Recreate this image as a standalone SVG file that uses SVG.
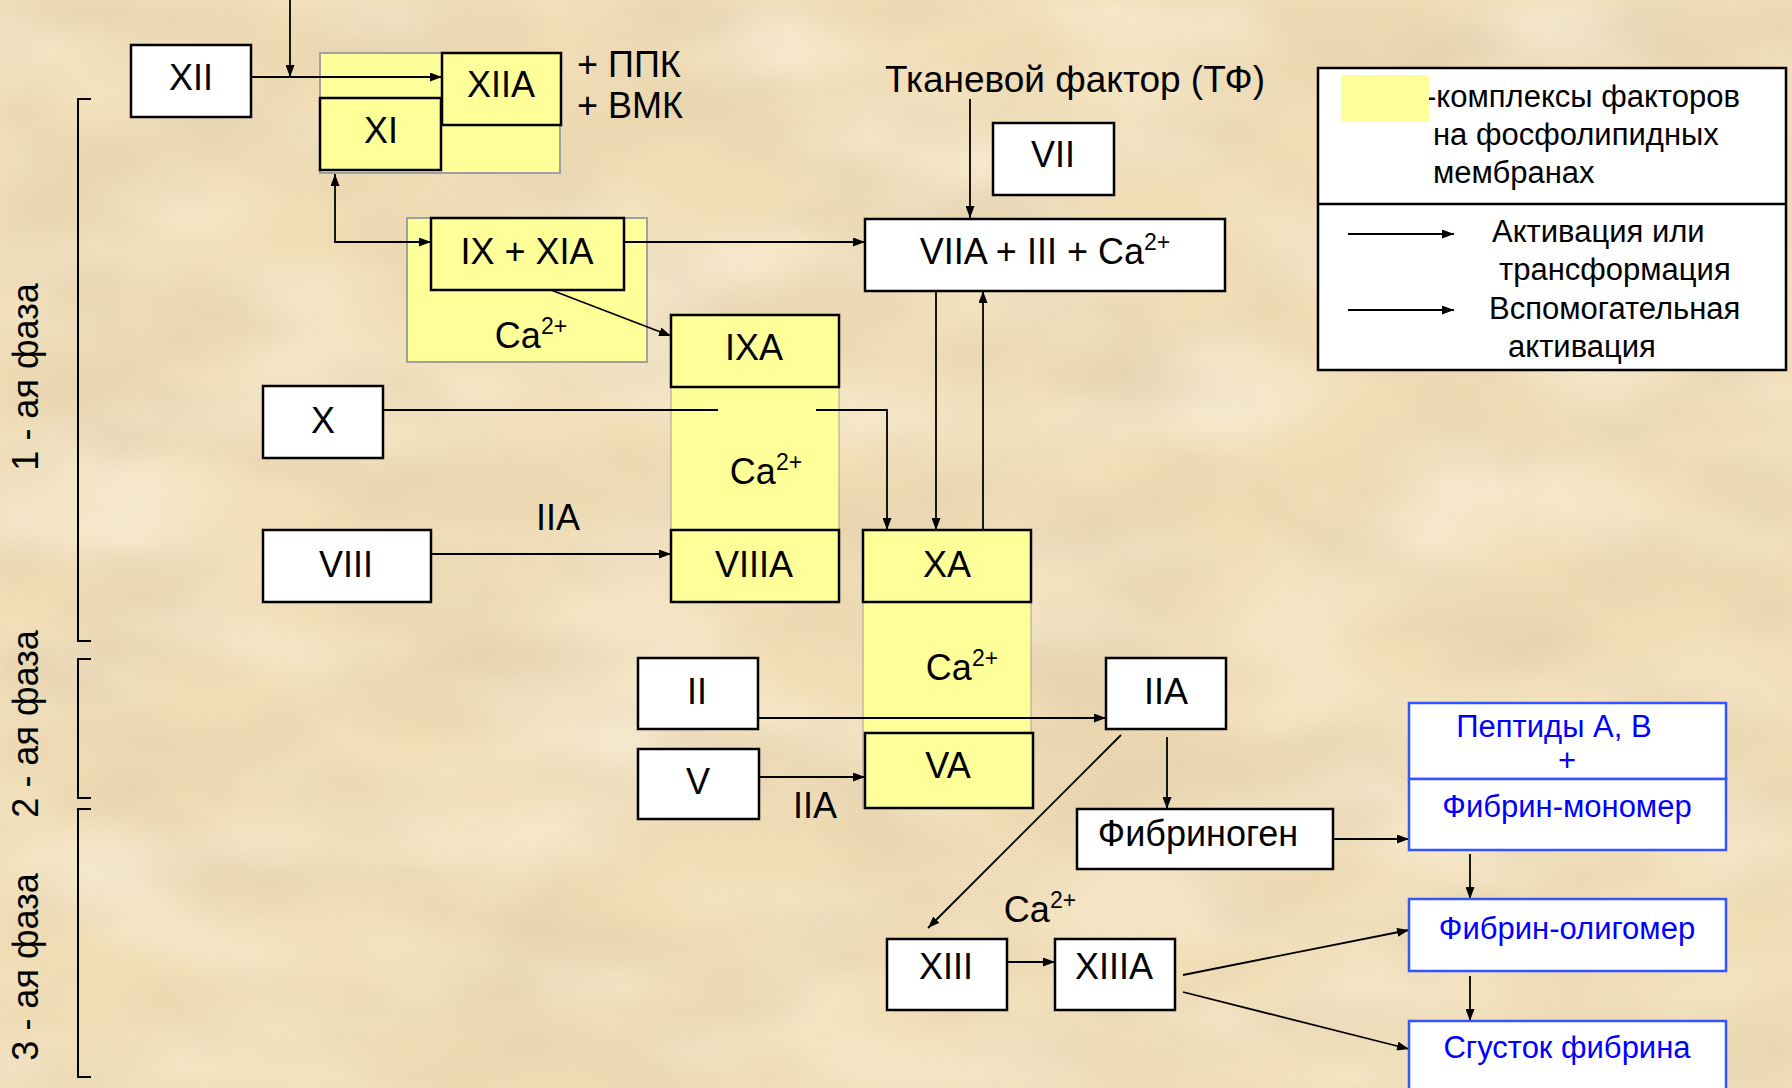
<svg xmlns="http://www.w3.org/2000/svg" width="1792" height="1088" viewBox="0 0 1792 1088">
<defs>
<style>
.t{font-family:"Liberation Sans",Arial,sans-serif;font-size:36px;fill:#000;text-anchor:middle}
.lg{font-family:"Liberation Sans",Arial,sans-serif;font-size:31px;fill:#000}
.bl{font-family:"Liberation Sans",Arial,sans-serif;font-size:31px;fill:#0000FF;text-anchor:middle}
.box{fill:#FFFFFF;stroke:#000;stroke-width:2.5}
.ybox{fill:#FFFF99;stroke:#000;stroke-width:2.5}
.grp{fill:#FFFF99;stroke:#A0A0A0;stroke-width:2}
.col{fill:#FFFF99;stroke:#A0A0A0;stroke-width:1}
.bbox{fill:#FFFFFF;stroke:#3355FF;stroke-width:2.5}
.ln{fill:none;stroke:#000;stroke-width:1.8}
.br{fill:none;stroke:#000;stroke-width:2}
</style>
<marker id="ah" viewBox="0 0 12 9" refX="12" refY="4.5" markerWidth="12" markerHeight="9" markerUnits="userSpaceOnUse" orient="auto-start-reverse">
<path d="M0,0 L12,4.5 L0,9 z" fill="#000"/>
</marker>
<filter id="paper" x="0" y="0" width="100%" height="100%">
<feTurbulence type="fractalNoise" baseFrequency="0.005 0.011" numOctaves="3" seed="7"/>
<feColorMatrix type="matrix" values="0 0 0 0 0.72  0 0 0 0 0.58  0 0 0 0 0.38  1.8 0 0 0 -0.68"/>
<feGaussianBlur stdDeviation="7"/>
</filter>
<filter id="light" x="0" y="0" width="100%" height="100%">
<feTurbulence type="fractalNoise" baseFrequency="0.004 0.009" numOctaves="2" seed="21"/>
<feColorMatrix type="matrix" values="0 0 0 0 1  0 0 0 0 0.96  0 0 0 0 0.85  1.8 0 0 0 -0.7"/>
<feGaussianBlur stdDeviation="8"/>
</filter>
</defs>
<rect width="1792" height="1088" fill="#F1DEB7"/>
<rect width="1792" height="1088" filter="url(#light)" opacity="0.6"/>
<rect width="1792" height="1088" filter="url(#paper)" opacity="0.7"/>

<!-- phase brackets and labels -->
<g id="phases">
<path class="br" d="M91,99 H78 V641 H91"/>
<path class="br" d="M91,659 H78 V798 H91"/>
<path class="br" d="M91,809 H78 V1077 H91"/>
<text class="t" transform="translate(38,377) rotate(-90)">1 - ая фаза</text>
<text class="t" transform="translate(38,724) rotate(-90)">2 - ая фаза</text>
<text class="t" transform="translate(38,967) rotate(-90)">3 - ая фаза</text>
</g>

<!-- complex backgrounds -->
<g id="complex-XII-XI"><rect class="grp" x="320" y="53" width="240" height="120"/></g>
<g id="complex-IX-XIA"><rect class="grp" x="407" y="218" width="240" height="144"/></g>
<g id="complex-IXA-VIIIA"><rect class="col" x="671" y="315" width="168" height="287"/></g>
<g id="complex-XA-VA"><rect class="col" x="863" y="530" width="168" height="278"/></g>

<!-- connectors -->
<g id="connectors">
<path class="ln" d="M290,0 V77" marker-end="url(#ah)"/>
<path class="ln" d="M251,77 H442" marker-end="url(#ah)"/>
<path class="ln" d="M335,174 V242 H431" marker-start="url(#ah)" marker-end="url(#ah)"/>
<path class="ln" d="M624,242 H865" marker-end="url(#ah)"/>
<path class="ln" d="M551,290 L671,336" marker-end="url(#ah)"/>
<path class="ln" d="M970,99 V218" marker-end="url(#ah)"/>
<path class="ln" d="M936,291 V530" marker-end="url(#ah)"/>
<path class="ln" d="M983,530 V291" marker-end="url(#ah)"/>
<path class="ln" d="M383,410 H718"/>
<path class="ln" d="M816,410 H887 V530" marker-end="url(#ah)"/>
<path class="ln" d="M431,554 H671" marker-end="url(#ah)"/>
<path class="ln" d="M758,718 H1106" marker-end="url(#ah)"/>
<path class="ln" d="M759,777 H865" marker-end="url(#ah)"/>
<path class="ln" d="M1167,737 V809" marker-end="url(#ah)"/>
<path class="ln" d="M1121,735 L928,928" marker-end="url(#ah)"/>
<path class="ln" d="M1333,839 H1409" marker-end="url(#ah)"/>
<path class="ln" d="M1007,962 H1055" marker-end="url(#ah)"/>
<path class="ln" d="M1470,854 V899" marker-end="url(#ah)"/>
<path class="ln" d="M1470,976 V1021" marker-end="url(#ah)"/>
<path class="ln" d="M1183,975 L1409,930" marker-end="url(#ah)"/>
<path class="ln" d="M1183,992 L1409,1049" marker-end="url(#ah)"/>
</g>

<!-- nodes -->
<g id="XII"><rect class="box" x="131" y="45" width="120" height="72"/><text class="t" x="191" y="90">XII</text></g>
<g id="XIIA"><rect class="ybox" x="442" y="53" width="119" height="72"/><text class="t" x="501" y="97">XIIA</text></g>
<g id="XI"><rect class="ybox" x="320" y="98" width="121" height="72"/><text class="t" x="381" y="143">XI</text></g>
<g id="ppk-vmk"><text class="t" x="577" y="77" style="text-anchor:start">+ ППК</text><text class="t" x="577" y="118" style="text-anchor:start">+ ВМК</text></g>
<g id="TF"><text class="t" x="1075" y="92" style="font-size:37px">Тканевой фактор (ТФ)</text></g>
<g id="VII"><rect class="box" x="993" y="123" width="121" height="72"/><text class="t" x="1053" y="167">VII</text></g>
<g id="VIIA-III-Ca"><rect class="box" x="865" y="219" width="360" height="72"/><text class="t" x="1045" y="264">VIIA + III + Ca<tspan font-size="23" dy="-14">2+</tspan></text></g>
<g id="IX-XIA"><rect class="ybox" x="431" y="218" width="193" height="72"/><text class="t" x="527" y="264">IX + XIA</text></g>
<g id="Ca-1"><text class="t" x="531" y="348">Ca<tspan font-size="23" dy="-14">2+</tspan></text></g>
<g id="IXA"><rect class="ybox" x="671" y="315" width="168" height="72"/><text class="t" x="754" y="360">IXA</text></g>
<g id="Ca-2"><text class="t" x="766" y="484">Ca<tspan font-size="23" dy="-14">2+</tspan></text></g>
<g id="X"><rect class="box" x="263" y="386" width="120" height="72"/><text class="t" x="323" y="433">X</text></g>
<g id="IIA-label-1"><text class="t" x="558" y="530">IIA</text></g>
<g id="VIII"><rect class="box" x="263" y="530" width="168" height="72"/><text class="t" x="346" y="577">VIII</text></g>
<g id="VIIIA"><rect class="ybox" x="671" y="530" width="168" height="72"/><text class="t" x="754" y="577">VIIIA</text></g>
<g id="XA"><rect class="ybox" x="863" y="530" width="168" height="72"/><text class="t" x="947" y="577">XA</text></g>
<g id="Ca-3"><text class="t" x="962" y="680">Ca<tspan font-size="23" dy="-14">2+</tspan></text></g>
<g id="VA"><rect class="ybox" x="865" y="733" width="168" height="75"/><text class="t" x="948" y="778">VA</text></g>
<g id="II"><rect class="box" x="638" y="658" width="120" height="71"/><text class="t" x="697" y="704">II</text></g>
<g id="IIA"><rect class="box" x="1106" y="658" width="120" height="71"/><text class="t" x="1166" y="704">IIA</text></g>
<g id="V"><rect class="box" x="638" y="749" width="121" height="70"/><text class="t" x="698" y="794">V</text></g>
<g id="IIA-label-2"><text class="t" x="815" y="818">IIA</text></g>
<g id="Fibrinogen"><rect class="box" x="1077" y="809" width="256" height="60"/><text class="t" x="1198" y="846">Фибриноген</text></g>
<g id="Ca-4"><text class="t" x="1040" y="922">Ca<tspan font-size="23" dy="-14">2+</tspan></text></g>
<g id="XIII"><rect class="box" x="887" y="939" width="120" height="71"/><text class="t" x="946" y="979">XIII</text></g>
<g id="XIIIA"><rect class="box" x="1055" y="939" width="120" height="71"/><text class="t" x="1114" y="979">XIIIA</text></g>
<g id="Peptides"><rect class="bbox" x="1409" y="703" width="317" height="76"/><text class="bl" x="1554" y="737">Пептиды А, В</text><text class="bl" x="1567" y="771">+</text></g>
<g id="Fibrin-monomer"><rect class="bbox" x="1409" y="779" width="317" height="71"/><text class="bl" x="1567" y="817">Фибрин-мономер</text></g>
<g id="Fibrin-oligomer"><rect class="bbox" x="1409" y="899" width="317" height="72"/><text class="bl" x="1567" y="939">Фибрин-олигомер</text></g>
<g id="Fibrin-clot"><rect class="bbox" x="1409" y="1021" width="317" height="75"/><text class="bl" x="1567" y="1058">Сгусток фибрина</text></g>

<!-- legend -->
<g id="legend">
<rect x="1318" y="68" width="468" height="302" fill="#FFFFFF" stroke="#000" stroke-width="2.5"/>
<line x1="1318" y1="204" x2="1786" y2="204" stroke="#000" stroke-width="2.5"/>
<text class="lg" x="1426" y="107">-комплексы факторов</text>
<rect x="1341" y="75" width="88" height="47" fill="#FFFF99"/>
<text class="lg" x="1433" y="145">на фосфолипидных</text>
<text class="lg" x="1433" y="183">мембранах</text>
<path class="ln" d="M1348,234 H1454" marker-end="url(#ah)"/>
<path class="ln" d="M1348,310 H1454" marker-end="url(#ah)"/>
<text class="lg" x="1492" y="242">Активация или</text>
<text class="lg" x="1499" y="280">трансформация</text>
<text class="lg" x="1489" y="319">Вспомогательная</text>
<text class="lg" x="1508" y="357">активация</text>
</g>
</svg>
